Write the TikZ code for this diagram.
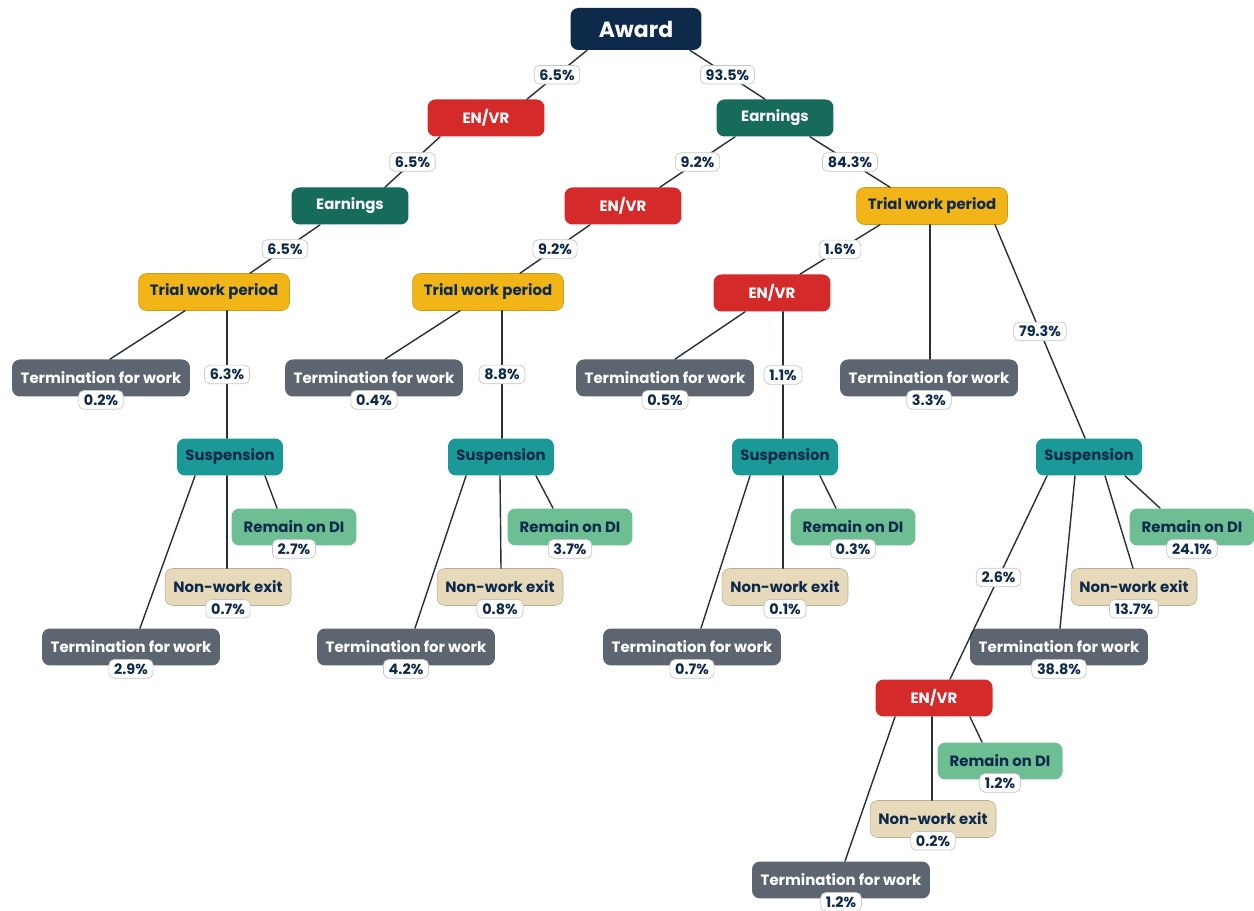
\documentclass[tikz,border=0pt]{standalone}
\usepackage{fontspec}
\setmainfont{Poppins}
\usetikzlibrary{calc}

\definecolor{navy}{HTML}{0E2A4B}
\definecolor{envrred}{HTML}{D42A2A}
\definecolor{earngreen}{HTML}{176B5B}
\definecolor{trialyellow}{HTML}{F2B518}
\definecolor{termgray}{HTML}{5D6670}
\definecolor{suspteal}{HTML}{1B9898}
\definecolor{remaingreen}{HTML}{6DBE93}
\definecolor{nwbeige}{HTML}{E7DABB}
\definecolor{linkgray}{HTML}{26303B}

\tikzset{
	box/.style={rounded corners=4.5pt, minimum height=0.74cm, inner sep=0pt, font=\bfseries\fontsize{8.5}{10}\selectfont},
	award/.style={box, fill=navy, text=white, minimum width=2.62cm, minimum height=0.84cm, font=\bfseries\fontsize{12.5}{14}\selectfont},
	envr/.style={box, fill=envrred, text=white, minimum width=2.34cm},
	earn/.style={box, fill=earngreen, text=white, minimum width=2.34cm},
	trial/.style={box, fill=trialyellow, draw=trialyellow!85!black, line width=0.3pt, text=navy, minimum width=3.02cm},
	term/.style={box, fill=termgray, text=white, minimum width=3.56cm},
	susp/.style={box, fill=suspteal, text=navy, minimum width=2.12cm},
	remain/.style={box, fill=remaingreen, text=navy, minimum width=2.5cm},
	nonwork/.style={box, fill=nwbeige, draw=nwbeige!80!black, line width=0.3pt, text=navy, minimum width=2.52cm},
	pct/.style={fill=white, draw=gray!45, line width=0.4pt, rounded corners=3pt, text=navy, font=\bfseries\fontsize{8.2}{9}\selectfont, inner xsep=3pt, inner ysep=2.2pt},
	link/.style={draw=linkgray, line width=0.8pt}
}

\begin{document}
\begin{tikzpicture}[x=0.02cm,y=-0.02cm,line join=round,line cap=round]
	
	\useasboundingbox (0,0) rectangle (1254,911);
	
	% Gốc
	\node[award] (award) at (636,29) {Award};
	
	% Tầng 1
	\node[envr] (envrL) at (486,118) {EN/VR};
	\node[earn] (earnR) at (775,118) {Earnings};
	
	% Tầng 2
	\node[earn] (earnL) at (350,206) {Earnings};
	\node[envr] (envrM) at (623,206) {EN/VR};
	\node[trial] (twpR) at (932,206) {Trial work period};
	
	% Tầng 3
	\node[trial] (twpL) at (214,292) {Trial work period};
	\node[trial] (twpM) at (488,292) {Trial work period};
	\node[envr] (envrR) at (772,293) {EN/VR};
	
	% Termination for work (trên)
	\node[term] (termL) at (101,378) {Termination for work};
	\node[term] (termM) at (374,378) {Termination for work};
	\node[term] (termRM) at (665,378) {Termination for work};
	\node[term] (termR) at (929,378) {Termination for work};
	
	% Suspension
	\node[susp] (suspL) at (230,457) {Suspension};
	\node[susp] (suspM) at (501,457) {Suspension};
	\node[susp] (suspRM) at (785,457) {Suspension};
	\node[susp] (suspR) at (1089,457) {Suspension};
	
	% Remain on DI
	\node[remain] (remL) at (294,527) {Remain on DI};
	\node[remain] (remM) at (570,527) {Remain on DI};
	\node[remain] (remRM) at (853,527) {Remain on DI};
	\node[remain] (remR) at (1192,527) {Remain on DI};
	
	% Non-work exit
	\node[nonwork] (nweL) at (228,587) {Non-work exit};
	\node[nonwork] (nweM) at (500,587) {Non-work exit};
	\node[nonwork] (nweRM) at (785,587) {Non-work exit};
	\node[nonwork] (nweR) at (1134,587) {Non-work exit};
	
	% Termination for work (dưới)
	\node[term] (tfwL) at (131,647) {Termination for work};
	\node[term] (tfwM) at (406,647) {Termination for work};
	\node[term] (tfwRM) at (692,647) {Termination for work};
	\node[term] (tfwR) at (1059,647) {Termination for work};
	
	% Nhánh cuối
	\node[envr] (envrB) at (934,698) {EN/VR};
	\node[remain] (remB) at (1000,761) {Remain on DI};
	\node[nonwork] (nweB) at (933,819) {Non-work exit};
	\node[term] (tfwB) at (841,880) {Termination for work};
	
	% Tỉ lệ dưới các hộp
	\node[pct] at ($(termL.south)+(0,3)$) {0.2\%};
	\node[pct] at ($(termM.south)+(0,3)$) {0.4\%};
	\node[pct] at ($(termRM.south)+(0,3)$) {0.5\%};
	\node[pct] at ($(termR.south)+(0,3)$) {3.3\%};
	\node[pct] at ($(remL.south)+(0,3)$) {2.7\%};
	\node[pct] at ($(remM.south)+(0,3)$) {3.7\%};
	\node[pct] at ($(remRM.south)+(0,3)$) {0.3\%};
	\node[pct] at ($(remR.south)+(0,3)$) {24.1\%};
	\node[pct] at ($(nweL.south)+(0,3)$) {0.7\%};
	\node[pct] at ($(nweM.south)+(0,3)$) {0.8\%};
	\node[pct] at ($(nweRM.south)+(0,3)$) {0.1\%};
	\node[pct] at ($(nweR.south)+(0,3)$) {13.7\%};
	\node[pct] at ($(tfwL.south)+(0,3)$) {2.9\%};
	\node[pct] at ($(tfwM.south)+(0,3)$) {4.2\%};
	\node[pct] at ($(tfwRM.south)+(0,3)$) {0.7\%};
	\node[pct] at ($(tfwR.south)+(0,3)$) {38.8\%};
	\node[pct] at ($(remB.south)+(0,3)$) {1.2\%};
	\node[pct] at ($(nweB.south)+(0,3)$) {0.2\%};
	\node[pct] at ($(tfwB.south)+(0,3)$) {1.2\%};
	
	% Đường nối
	\draw[link] ($(award.south)+(-49,0)$) -- node[pct]{6.5\%} ($(envrL.north)+(41,0)$);
	\draw[link] ($(award.south)+(54,0)$) -- node[pct]{93.5\%} ($(earnR.north)+(-10,0)$);
	
	\draw[link] ($(envrL.south)+(-46,0)$) -- node[pct]{6.5\%} ($(earnL.north)+(35,0)$);
	\draw[link] ($(earnR.south)+(-40,0)$) -- node[pct]{9.2\%} ($(envrM.north)+(37,0)$);
	\draw[link] ($(earnR.south)+(35,0)$) -- node[pct]{84.3\%} ($(twpR.north)+(-42,0)$);
	
	\draw[link] ($(earnL.south)+(-30,0)$) -- node[pct]{6.5\%} ($(twpL.north)+(36,0)$);
	\draw[link] ($(envrM.south)+(-33,0)$) -- node[pct]{9.2\%} ($(twpM.north)+(32,0)$);
	\draw[link] ($(twpR.south)+(-52,0)$) -- node[pct]{1.6\%} ($(envrR.north)+(28,0)$);
	
	\draw[link] ($(twpL.south)+(-29,0)$) -- ($(termL.north)+(9,0)$);
	\draw[link] ($(twpL.south)+(13,0)$) -- node[pct]{6.3\%} ($(suspL.north)+(-3,0)$);
	\draw[link] ($(twpM.south)+(-28,0)$) -- ($(termM.north)+(11,0)$);
	\draw[link] ($(twpM.south)+(14,0)$) -- node[pct]{8.8\%} ($(suspM.north)+(1,0)$);
	\draw[link] ($(envrR.south)+(-27,0)$) -- ($(termRM.north)+(10,0)$);
	\draw[link] ($(envrR.south)+(11,0)$) -- node[pct]{1.1\%} ($(suspRM.north)+(-2,0)$);
	\draw[link] ($(twpR.south)+(-2,0)$) -- ($(termR.north)+(1,0)$);
	\draw[link] ($(twpR.south)+(63,0)$) -- node[pct]{79.3\%} ($(suspR.north)+(-4,0)$);
	
	\draw[link] ($(suspL.south)+(-35,0)$) -- ($(tfwL.north)+(9,0)$);
	\draw[link] ($(suspL.south)+(-3,0)$) -- ($(nweL.north)+(-1,0)$);
	\draw[link] ($(suspL.south)+(35,0)$) -- ($(remL.north)+(-17,0)$);
	\draw[link] ($(suspM.south)+(-35,0)$) -- ($(tfwM.north)+(9,0)$);
	\draw[link] ($(suspM.south)+(-1,0)$) -- ($(nweM.north)+(1,0)$);
	\draw[link] ($(suspM.south)+(35,0)$) -- ($(remM.north)+(-17,0)$);
	\draw[link] ($(suspRM.south)+(-35,0)$) -- ($(tfwRM.north)+(9,0)$);
	\draw[link] ($(suspRM.south)+(-2,0)$) -- ($(nweRM.north)+(-2,0)$);
	\draw[link] ($(suspRM.south)+(35,0)$) -- ($(remRM.north)+(-17,0)$);
	
	\draw[link] ($(suspR.south)+(-42,0)$) -- node[pct]{2.6\%} ($(envrB.north)+(16,0)$);
	\draw[link] ($(suspR.south)+(-14,0)$) -- ($(tfwR.north)+(1,0)$);
	\draw[link] ($(suspR.south)+(16,0)$) -- ($(nweR.north)+(-1,0)$);
	\draw[link] ($(suspR.south)+(36,0)$) -- ($(remR.north)+(-32,0)$);
	
	\draw[link] ($(envrB.south)+(-39,0)$) -- ($(tfwB.north)+(4,0)$);
	\draw[link] ($(envrB.south)+(-2,0)$) -- ($(nweB.north)+(-1,0)$);
	\draw[link] ($(envrB.south)+(36,0)$) -- ($(remB.north)+(-18,0)$);
	
\end{tikzpicture}
\end{document}
